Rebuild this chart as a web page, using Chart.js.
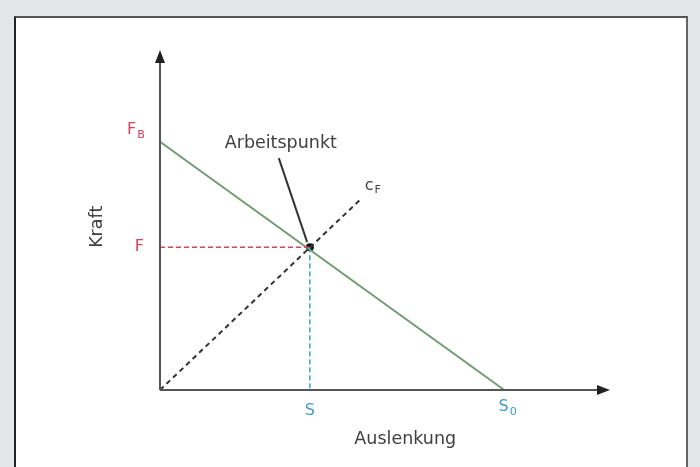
<!DOCTYPE html>
<html><head><meta charset="utf-8">
<script src="https://cdn.jsdelivr.net/npm/chart.js@4"></script>
<style>
html,body{margin:0;padding:0;background:#e5e6e8;width:700px;height:467px;overflow:hidden}
#panel{position:absolute;left:14px;top:16px;width:670px;height:470px;background:#fff;border-top:2px solid #555;border-left:2px solid #222;border-right:2px solid #666}
#c{position:absolute;left:0;top:0}
</style></head><body>
<div id="panel"></div>
<canvas id="c" width="700" height="467"></canvas>
<script>
// Data (arbitrary units of the schematic)
const axisMax = [10, 10];          // x max, y max (arrow tips)
const blockForce = 7.3;            // F_B on force axis
const freeDeflection = 7.65;       // s_0 on deflection axis
const workDeflection = 3.33;       // s at the working point
const workForce = 4.2;             // F at the working point
const springEnd = [4.45, 5.6];     // end of c_F line
const pointerStart = [2.64, 6.82]; // start of Arbeitspunkt pointer
const pointerEnd = [3.27, 4.35];
const labels = {fb:'F', fbSub:'B', f:'F', s:'S', s0:'S', s0Sub:'0', cf:'c', cfSub:'F',
  xTitle:'Auslenkung', yTitle:'Kraft', work:'Arbeitspunkt'};

const RED='#d9435c', BLUE='#3a9fcb', GREEN='#6f9c6f', AX='#555', TXT='#404040';
const FONT='DejaVu Sans';

const datasets = [
  {data:[{x:0,y:0},{x:axisMax[0]-0.1,y:0}], borderColor:AX, borderWidth:2},
  {data:[{x:0,y:0},{x:0,y:axisMax[1]-0.1}], borderColor:AX, borderWidth:2},
  {data:[{x:0,y:workForce},{x:workDeflection,y:workForce}], borderColor:RED, borderWidth:1.5, borderDash:[5,3]},
  {data:[{x:workDeflection,y:workForce},{x:workDeflection,y:0}], borderColor:BLUE, borderWidth:1.5, borderDash:[5,3]},
  {data:[{x:0,y:0},{x:springEnd[0],y:springEnd[1]}], borderColor:'#333', borderWidth:2, borderDash:[5,4]},
  {data:[{x:0,y:blockForce},{x:freeDeflection,y:0}], borderColor:GREEN, borderWidth:2},
  {data:[{x:pointerStart[0],y:pointerStart[1]},{x:pointerEnd[0],y:pointerEnd[1]}], borderColor:'#333', borderWidth:2},
  {data:[{x:workDeflection,y:workForce}], showLine:false, pointRadius:4, pointBackgroundColor:'#111', pointBorderWidth:0}
].map(d=>Object.assign({showLine:true, pointRadius:0, clip:false, fill:false}, d));

function sub(ctx, main, s, x, y, color, size, align){
  ctx.fillStyle=color;
  ctx.font=size+'px "'+FONT+'"';
  const w1=ctx.measureText(main).width;
  ctx.font=(size*0.7)+'px "'+FONT+'"';
  const w2=ctx.measureText(s).width;
  let x0 = align==='right' ? x-(w1+w2) : align==='center' ? x-(w1+w2)/2 : x;
  ctx.textAlign='left'; ctx.textBaseline='middle';
  ctx.font=size+'px "'+FONT+'"';
  ctx.fillText(main,x0,y);
  ctx.font=(size*0.7)+'px "'+FONT+'"';
  ctx.fillText(s,x0+w1+1,y+size*0.3);
}

const deco = {
  id:'deco',
  afterDatasetsDraw(chart){
    const ctx=chart.ctx, xs=chart.scales.x, ys=chart.scales.y;
    const X=v=>xs.getPixelForValue(v), Y=v=>ys.getPixelForValue(v);
    ctx.save();
    // arrowheads
    ctx.fillStyle='#222';
    const ox=X(0), oy=Y(0), tx=X(axisMax[0]), ty=Y(axisMax[1]);
    ctx.beginPath(); ctx.moveTo(tx,oy); ctx.lineTo(tx-13,oy-5); ctx.lineTo(tx-13,oy+5); ctx.closePath(); ctx.fill();
    ctx.beginPath(); ctx.moveTo(ox,ty); ctx.lineTo(ox-5,ty+13); ctx.lineTo(ox+5,ty+13); ctx.closePath(); ctx.fill();
    // labels
    sub(ctx, labels.fb, labels.fbSub, ox-16, Y(blockForce)-12, RED, 16, 'right');
    sub(ctx, labels.f, '', ox-16, Y(workForce), RED, 16, 'right');
    sub(ctx, labels.s, '', X(workDeflection), oy+21, BLUE, 16, 'center');
    sub(ctx, labels.s0, labels.s0Sub, X(freeDeflection)+3, oy+17, BLUE, 16, 'center');
    sub(ctx, labels.cf, labels.cfSub, X(springEnd[0])+12, Y(springEnd[1])-14, TXT, 16, 'center');
    ctx.fillStyle=TXT; ctx.font='17.5px "'+FONT+'"'; ctx.textAlign='center'; ctx.textBaseline='middle';
    ctx.fillText(labels.work, X(pointerStart[0])+2, Y(pointerStart[1])-15);
    ctx.fillText(labels.xTitle, X(5.45), oy+49);
    ctx.save(); ctx.translate(ox-63, Y(4.8)); ctx.rotate(-Math.PI/2);
    ctx.fillText(labels.yTitle, 0, 0); ctx.restore();
    ctx.restore();
  }
};

new Chart(document.getElementById('c'), {
  type:'scatter',
  data:{datasets},
  options:{
    responsive:false, animation:false, events:[],
    layout:{padding:{left:160,right:90,top:50,bottom:77}},
    plugins:{legend:{display:false}, tooltip:{enabled:false}},
    scales:{
      x:{type:'linear', min:0, max:axisMax[0], display:false},
      y:{type:'linear', min:0, max:axisMax[1], display:false}
    }
  },
  plugins:[deco]
});
</script>
</body></html>
